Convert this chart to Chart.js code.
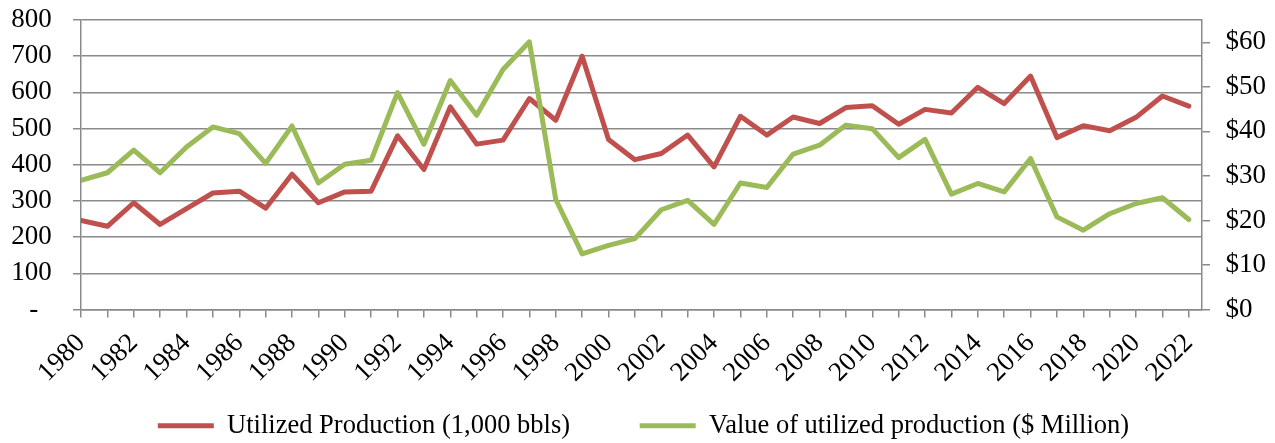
<!DOCTYPE html>
<html>
  <head>
    <title>Utilized Production and Value</title>
    <style>
      body { margin: 0; background: #fff; }
      #wrap { width: 1275px; height: 443px; }
    </style>
  </head>
  <body>

    <!-- Chart.js from CDN -->
    <script src="https://cdn.jsdelivr.net/npm/chart.js@4.4.1/dist/chart.umd.min.js"></script>

    <div id="wrap"><canvas id="prodChart" width="1275" height="443"></canvas></div>

    <script>

      // Years on the x axis
      const years = [];
      for (let y = 1980; y <= 2022; y++) years.push(y);

      // Utilized production, 1,000 bbls (left axis)
      const production = [
        246, 230, 295, 235, 279, 322, 327, 280, 374, 295,
        325, 327, 480, 387, 560, 457, 468, 583, 523, 700,
        470, 414, 431, 482, 394, 534, 482, 532, 514, 558,
        563, 512, 553, 543, 614, 569, 645, 475, 508, 494,
        531, 590, 562
      ];

      // Value of utilized production, $ million (right axis)
      const value = [
        29.0, 30.7, 35.8, 30.7, 36.5, 41.0, 39.5, 32.8, 41.2, 28.4,
        32.6, 33.5, 48.7, 37.1, 51.4, 43.6, 53.9, 60.1, 24.7, 12.5,
        14.4, 15.9, 22.4, 24.5, 19.1, 28.4, 27.4, 34.9, 36.9, 41.4,
        40.6, 34.1, 38.2, 25.9, 28.3, 26.4, 33.9, 20.8, 17.8, 21.5,
        23.8, 25.1, 20.2
      ];

      // Tick values
      const leftTicks = [0, 100, 200, 300, 400, 500, 600, 700, 800];
      const rightTicks = [0, 10, 20, 30, 40, 50, 60];

      // Legend labels
      const seriesNames = ["Utilized Production (1,000 bbls)", "Value of utilized production ($ Million)"];
      const seriesColors = ["#C0504D", "#9BBB59"];

      const gridColor = "#8a8a8a";
      const fontFamily = "'Liberation Serif', 'Times New Roman', serif";
      const font = { family: fontFamily, size: 27 };
      const nb = (n) => "\u00a0".repeat(n);

      const toPoints = (arr) => arr.map((v, i) => ({ x: years[i], y: v }));

      const ctx = document.getElementById("prodChart").getContext("2d");

      const lineStyle = {
        borderWidth: 5,
        pointRadius: 0,
        tension: 0,
        borderJoinStyle: "round",
        borderCapStyle: "round"
      };

      const chart = new Chart(ctx, {
        type: "line",
        data: {
          datasets: [
            Object.assign({
              label: seriesNames[0],
              data: toPoints(production),
              yAxisID: "y",
              borderColor: seriesColors[0],
              backgroundColor: seriesColors[0],
              order: 1
            }, lineStyle),
            Object.assign({
              label: seriesNames[1],
              data: toPoints(value),
              yAxisID: "y1",
              borderColor: seriesColors[1],
              backgroundColor: seriesColors[1],
              order: 0
            }, lineStyle)
          ]
        },
        options: {
          responsive: false,
          animation: false,
          layout: { padding: { top: 20, left: 12, right: 0, bottom: -6 } },
          plugins: {
            tooltip: { enabled: false },
            legend: {
              position: "bottom",
              labels: {
                font: { family: fontFamily, size: 26.5 },
                color: "#000",
                boxWidth: 56,
                boxHeight: 5,
                padding: 10,
                // pad the first label so the gap between items matches
                generateLabels: (c) => c.data.datasets.map((ds, i) => ({
                  text: i === 0 ? ds.label + nb(9) : ds.label,
                  fillStyle: seriesColors[i],
                  strokeStyle: seriesColors[i],
                  lineWidth: 0,
                  fontColor: "#000",
                  datasetIndex: i
                }))
              }
            }
          },
          scales: {
            x: {
              type: "linear",
              position: "bottom",
              min: 1980,
              max: 2022.5,
              afterBuildTicks: (s) => { s.ticks = years.map(v => ({ value: v })); },
              afterFit: (s) => { s.height = 93; },
              grid: { drawOnChartArea: false, color: gridColor, lineWidth: 1.5, tickLength: 8 },
              border: { color: gridColor, width: 1.5 },
              ticks: {
                autoSkip: false,
                minRotation: 45,
                maxRotation: 45,
                padding: 10,
                color: "#000",
                font: font,
                callback: (v) => (v % 2 === 0 ? String(v) : "")
              }
            },
            y: {
              position: "left",
              min: 0,
              max: 800,
              afterBuildTicks: (s) => { s.ticks = leftTicks.map(v => ({ value: v })); },
              afterFit: (s) => { s.width = 69; },
              grid: { color: gridColor, lineWidth: 1.5, tickLength: 8 },
              border: { color: gridColor, width: 1.5 },
              ticks: {
                autoSkip: false,
                padding: 1,
                color: "#000",
                font: font,
                // trailing spaces keep the labels clear of the tick marks
                callback: (v) => (v === 0 ? "-" + nb(5) : String(v) + nb(3))
              }
            },
            y1: {
              position: "right",
              min: 0,
              max: 65,
              afterBuildTicks: (s) => { s.ticks = rightTicks.map(v => ({ value: v })); },
              afterFit: (s) => { s.width = 73; },
              grid: { drawOnChartArea: false, color: gridColor, lineWidth: 1.5, tickLength: 8 },
              border: { color: gridColor, width: 1.5 },
              ticks: {
                autoSkip: false,
                padding: 2,
                color: "#000",
                font: font,
                callback: (v) => nb(2) + "$" + v
              }
            }
          }
        }
      });

    </script>
  </body>
</html>
